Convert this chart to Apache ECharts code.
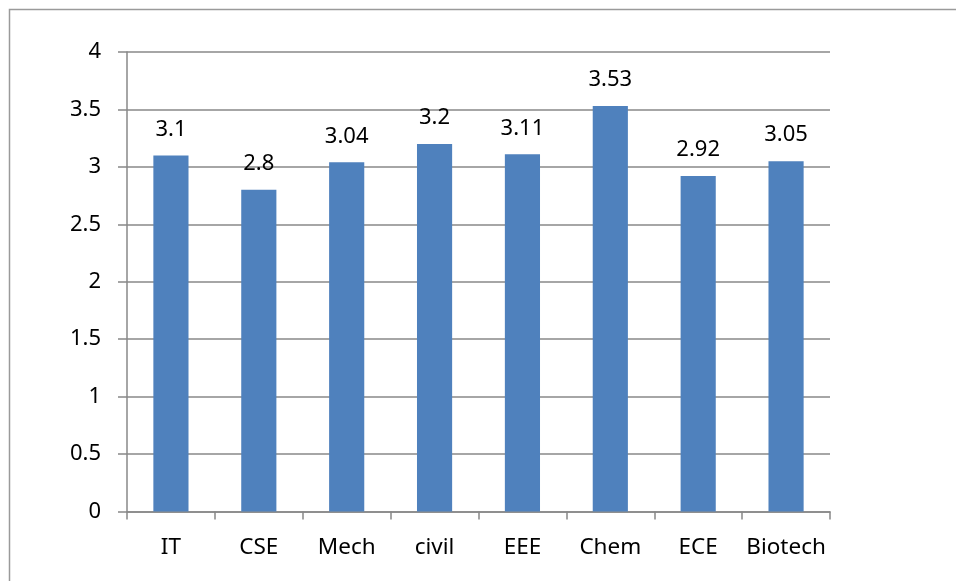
<!DOCTYPE html>
<html>
<head>
<meta charset="utf-8">
<style>html,body{margin:0;padding:0;background:#fff;}#c{width:956px;height:581px;}</style>
<script src="https://cdn.jsdelivr.net/npm/echarts@6/dist/echarts.min.js"></script>
</head>
<body>
<div id="c"></div>
<script>
const categories = ['IT', 'CSE', 'Mech', 'civil', 'EEE', 'Chem', 'ECE', 'Biotech'];
const values = [3.1, 2.8, 3.04, 3.2, 3.11, 3.53, 2.92, 3.05];

const chart = echarts.init(document.getElementById('c'));
const font = '"Noto Sans", sans-serif';
const axisColor = '#888888';
chart.setOption({
  animation: false,
  backgroundColor: '#fff',
  graphic: [{
    type: 'rect',
    shape: { x: 9.5, y: 9.5, width: 1000, height: 1000 },
    style: { fill: 'none', stroke: '#9a9a9a', lineWidth: 1.5 },
    silent: true
  }],
  grid: { left: 127, top: 52, width: 703, height: 459.5 },
  xAxis: {
    type: 'category',
    data: categories,
    axisLine: { lineStyle: { color: axisColor, width: 1.5 } },
    axisTick: { show: true, length: 8, alignWithLabel: false, lineStyle: { color: axisColor, width: 1.5 } },
    axisLabel: { color: '#000', fontFamily: font, fontSize: 22.5, margin: 25, interval: 0 },
    splitLine: { show: false }
  },
  yAxis: {
    type: 'value',
    min: 0, max: 4, interval: 0.5,
    axisLine: { show: true, lineStyle: { color: axisColor, width: 1.5 } },
    axisTick: { show: true, length: 9, lineStyle: { color: axisColor, width: 1.5 } },
    axisLabel: { color: '#000', fontFamily: font, fontSize: 22, margin: 26 },
    splitLine: { show: true, lineStyle: { color: axisColor, width: 1.5 } }
  },
  series: [{
    type: 'bar',
    data: values,
    barWidth: '40%',
    itemStyle: { color: '#4F81BD' },
    label: { show: true, position: 'top', distance: 15, color: '#000', fontFamily: font, fontSize: 22 }
  }]
});
</script>
</body>
</html>
